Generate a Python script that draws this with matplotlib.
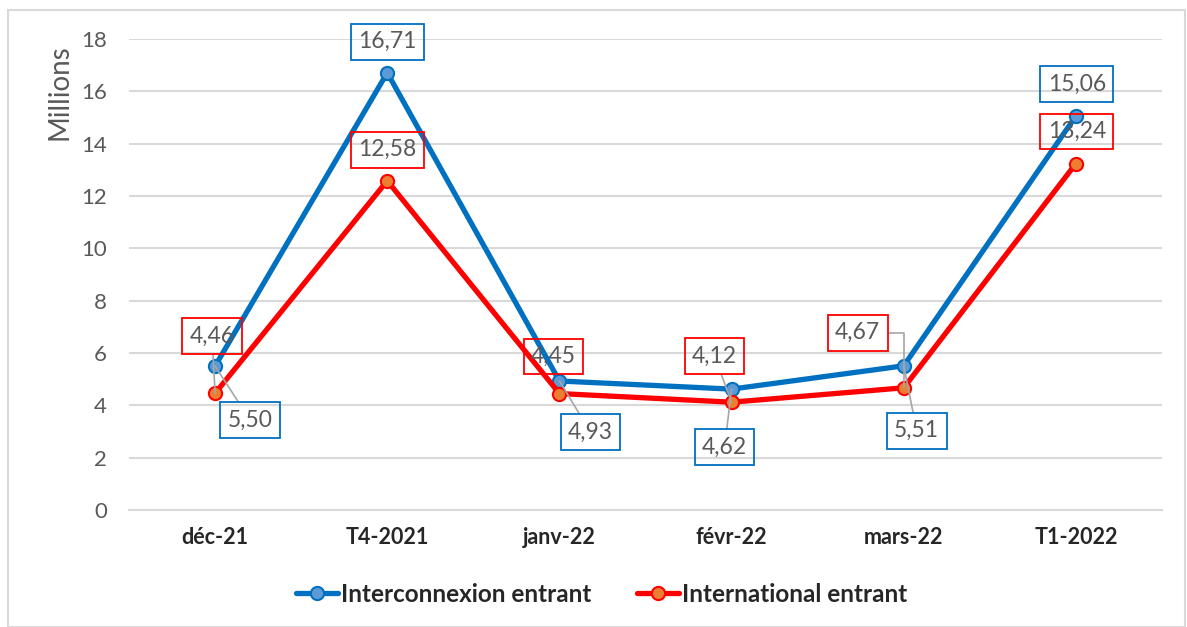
import matplotlib
matplotlib.use("Agg")
import matplotlib.pyplot as plt
from matplotlib.patches import Rectangle

categories = ["déc-21", "T4-2021", "janv-22", "févr-22", "mars-22", "T1-2022"]
interconnexion = [5.50, 16.71, 4.93, 4.62, 5.51, 15.06]
international = [4.46, 12.58, 4.45, 4.12, 4.67, 13.24]
series_names = ["Interconnexion entrant", "International entrant"]
yticks = [0, 2, 4, 6, 8, 10, 12, 14, 16, 18]

FONT = ["Lato", "DejaVu Sans"]
plt.rcParams['font.family'] = FONT

fig = plt.figure(figsize=(11.87, 6.27), dpi=100)
fig.patches.append(Rectangle((8/1187, 0), (1185-8)/1187, (627-10)/627, transform=fig.transFigure,
                             fill=False, edgecolor="#D9D9D9", lw=1.5))
ax = fig.add_axes([129/1187, 117/627, (1162-129)/1187, (588-117)/627])

x = list(range(len(categories)))
blue, blue_face = "#0070C0", "#5B9BD5"
red, red_face = "#FF0000", "#ED7D31"

ax.plot(x, interconnexion, color=blue, lw=3.8, marker="o", ms=9.5, mfc=blue_face, mec=blue, mew=1.5,
        label=series_names[0], zorder=3, solid_capstyle="round")
ax.plot(x, international, color=red, lw=3.8, marker="o", ms=9.5, mfc=red_face, mec=red, mew=1.5,
        label=series_names[1], zorder=3, solid_capstyle="round")

ax.set_xlim(-0.5, len(categories) - 0.5)
ax.set_ylim(0, 18)
ax.set_yticks(yticks)
ax.set_yticklabels([str(v) for v in yticks], color="#595959", fontsize=16)
ax.set_xticks(x)
ax.set_xticklabels(categories, fontsize=15.5, fontweight="bold", color="#262626")
ax.tick_params(axis="both", length=0)
ax.tick_params(axis="y", pad=16)
ax.tick_params(axis="x", pad=12)
ax.grid(axis="y", color="#D9D9D9", lw=1.5)
ax.set_axisbelow(True)
for s in ax.spines.values():
    s.set_visible(False)
ax.spines["bottom"].set_visible(True)
ax.spines["bottom"].set_color("#D9D9D9")
ax.spines["bottom"].set_linewidth(1.5)

fig.text(60/1187, 1 - 92/627, "Millions", rotation=90, ha="center", va="center",
         color="#595959", fontsize=20)

def fmt(v):
    return f"{v:.2f}".replace(".", ",")

# label offsets in pixels (dx, dy) and whether to draw a leader line
blue_off = [(35, -54, True), (0, 31, False), (31, -51, True), (-7, -58, True), (13, -65, True), (1, 32, False)]
red_off = [(-3, 57, True), (0, 31, False), (-6, 37, False), (-17, 46, True), (-46, 55, "angle"), (1, 32, False)]

def label(vals, offs, col):
    for i, (v, (dx, dy, lead)) in enumerate(zip(vals, offs)):
        kw = {}
        if lead:
            cs = "arc3"
            if lead == "angle":
                cs = "angle,angleA=0,angleB=90,rad=0"
            kw["arrowprops"] = dict(arrowstyle="-", color="#A6A6A6", lw=1.2, shrinkA=0, shrinkB=0,
                                    connectionstyle=cs)
        ax.annotate(fmt(v), xy=(i, v), xytext=(dx, dy), textcoords="offset pixels",
                    ha="center", va="center", fontsize=16.5, color="#595959",
                    bbox=dict(boxstyle="square,pad=0.32", fc="none", ec=col, lw=1.3),
                    annotation_clip=False, zorder=5, **kw)

label(interconnexion, blue_off, blue)
label(international, red_off, red)

leg = fig.legend(loc="center", bbox_to_anchor=(0.5 + 8/1187, 33/627), ncol=2, frameon=False,
                 prop={"weight": "bold", "size": 17.5}, handlelength=1.75, columnspacing=1.85,
                 handletextpad=0.12)
for t in leg.get_texts():
    t.set_color("#262626")

fig.savefig("out.png", dpi=100)
